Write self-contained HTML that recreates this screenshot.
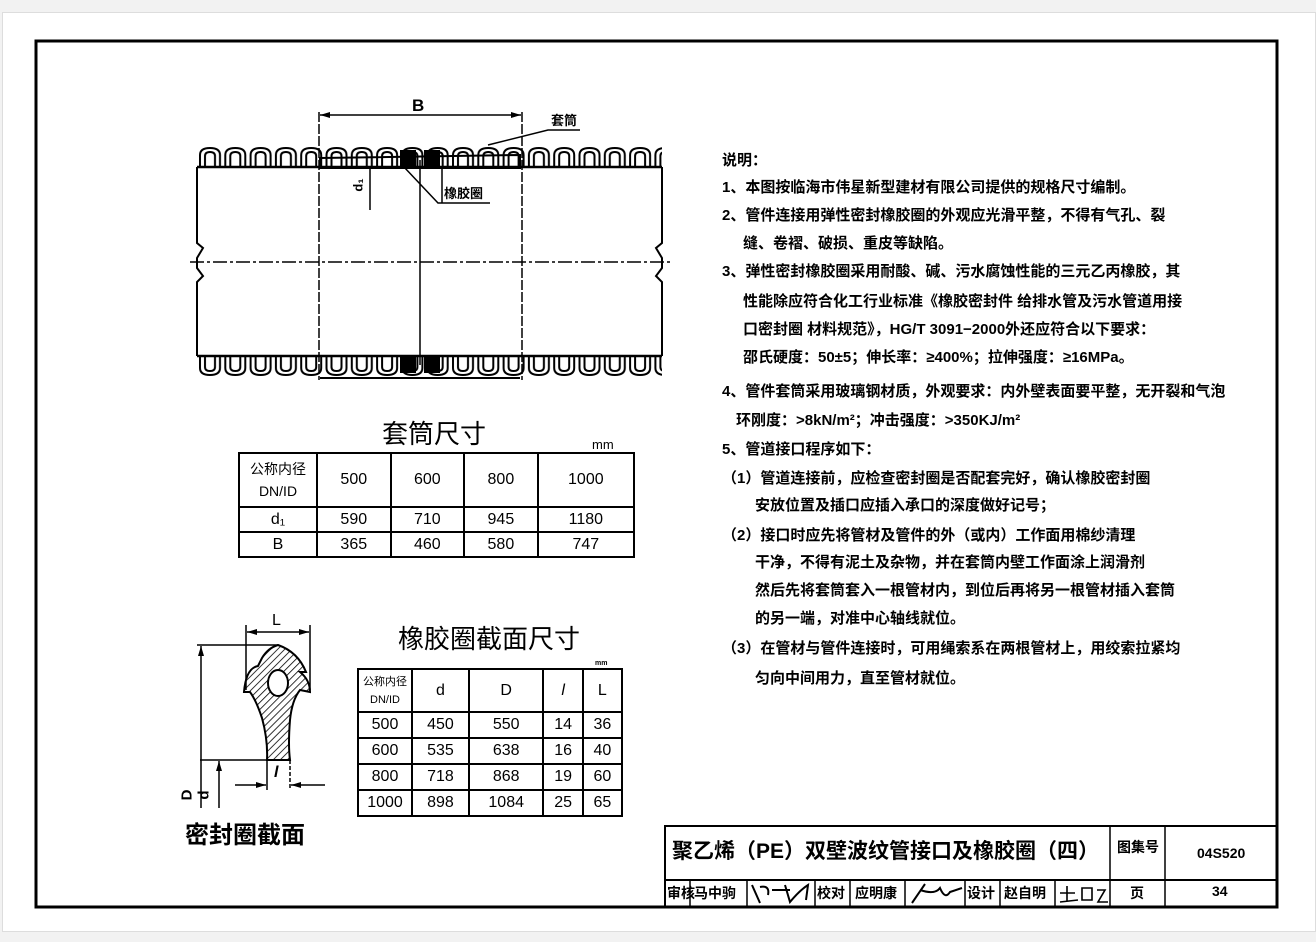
<!DOCTYPE html>
<html><head><meta charset="utf-8"><style>
body{margin:0;width:1316px;height:942px;background:#f2f2f2;position:relative;overflow:hidden;font-family:"Liberation Sans","Noto Sans CJK SC",sans-serif;color:#000}
.pg{position:absolute;left:2px;top:12px;width:1312px;height:918px;background:#fff;border:1px solid #ddd}
.t{position:absolute;white-space:nowrap;font-weight:bold;font-size:15px;line-height:18px;font-family:"Liberation Sans","Noto Sans CJK SC",sans-serif}
table{position:absolute;border-collapse:collapse}
td{border:2px solid #000;text-align:center;padding:0;font-size:16px}
</style></head><body>
<div class="pg"></div>
<svg width="1316" height="942" style="position:absolute;left:0;top:0">
<defs>
<pattern id="hu" x="198" y="146" width="25.3" height="24" patternUnits="userSpaceOnUse">
<path d="M2 22 L2 9 Q2 2 12 2 Q22 2 22 9 L22 22 M7 22 L7 10 Q7 6 12 6 Q17 6 17 10 L17 22" fill="none" stroke="#000" stroke-width="2"/>
</pattern>
<pattern id="hd" x="198" y="355" width="25.3" height="24" patternUnits="userSpaceOnUse">
<path d="M2 0 L2 13 Q2 20 12 20 Q22 20 22 13 L22 0 M7 0 L7 12 Q7 16 12 16 Q17 16 17 12 L17 0" fill="none" stroke="#000" stroke-width="2"/>
</pattern>
<pattern id="hat" width="5" height="5" patternUnits="userSpaceOnUse" patternTransform="rotate(45)">
<line x1="0" y1="0" x2="0" y2="5" stroke="#000" stroke-width="1.6"/>
</pattern>
<marker id="a" markerWidth="10" markerHeight="6" refX="10" refY="3" orient="auto-start-reverse" markerUnits="userSpaceOnUse"><path d="M0 0L10 3L0 6z"/></marker>
</defs>
<rect x="36" y="41" width="1241" height="866" fill="none" stroke="#000" stroke-width="3"/>
<!-- pipe -->
<rect x="198" y="146" width="464" height="22" fill="url(#hu)"/>
<rect x="198" y="355" width="464" height="22" fill="url(#hd)"/>
<line x1="197" y1="167" x2="662" y2="167" stroke="#000" stroke-width="2.5"/>
<line x1="197" y1="356" x2="662" y2="356" stroke="#000" stroke-width="2.5"/>
<path d="M320 158 L520 155 L520 168 L320 168z" fill="none" stroke="#000" stroke-width="2"/>
<rect x="400" y="150" width="16" height="18" fill="#000"/>
<rect x="424" y="150" width="16" height="18" fill="#000"/>
<rect x="400" y="355" width="16" height="18" fill="#000"/>
<rect x="424" y="355" width="16" height="18" fill="#000"/>
<path d="M320 378 L520 378" stroke="#000" stroke-width="2"/>
<path d="M197 167 V243 L203 248 L197 258 V268 L203 276 L197 282 V356" fill="none" stroke="#000" stroke-width="2"/>
<path d="M662 167 V243 L656 248 L662 258 V268 L656 276 L662 282 V356" fill="none" stroke="#000" stroke-width="2"/>
<line x1="190" y1="262" x2="672" y2="262" stroke="#000" stroke-width="1.5" stroke-dasharray="14 3 3 3"/>
<line x1="319" y1="112" x2="319" y2="380" stroke="#000" stroke-width="1.5" stroke-dasharray="10 2"/>
<line x1="522" y1="112" x2="522" y2="380" stroke="#000" stroke-width="1.5" stroke-dasharray="10 2"/>
<line x1="420" y1="160" x2="420" y2="365" stroke="#000" stroke-width="1.5"/>
<line x1="320" y1="115" x2="521" y2="115" stroke="#000" stroke-width="1.5" marker-start="url(#a)" marker-end="url(#a)"/>
<path d="M488 145 L548 130 L580 130" fill="none" stroke="#000" stroke-width="1.5"/>
<path d="M404 167 L438 203 L490 203" fill="none" stroke="#000" stroke-width="1.5"/>
<line x1="442" y1="167" x2="442" y2="203" stroke="#000" stroke-width="1.5"/>
<line x1="370" y1="167" x2="370" y2="210" stroke="#000" stroke-width="1.5"/>
<!-- seal section -->
<line x1="246" y1="625" x2="246" y2="690" stroke="#000" stroke-width="1.5"/>
<line x1="310" y1="625" x2="310" y2="690" stroke="#000" stroke-width="1.5"/>
<line x1="247" y1="632" x2="309" y2="632" stroke="#000" stroke-width="1.5" marker-start="url(#a)" marker-end="url(#a)"/>
<line x1="197" y1="645" x2="278" y2="645" stroke="#000" stroke-width="1.5"/>
<line x1="200" y1="760" x2="268" y2="760" stroke="#000" stroke-width="1.5"/>
<line x1="201" y1="646" x2="201" y2="808" stroke="#000" stroke-width="1.5" marker-start="url(#a)"/>
<line x1="219" y1="761" x2="219" y2="808" stroke="#000" stroke-width="1.5" marker-start="url(#a)"/>
<path d="M278 645 Q298 652 306 672 L300 672 Q310 680 310 692 L300 690 Q292 700 290 720 Q288 745 290 760 L267 760 Q268 740 262 718 Q256 700 250 692 L244 692 Q246 668 258 666 L262 658 Q268 648 278 645z" fill="url(#hat)" stroke="#000" stroke-width="2"/>
<ellipse cx="278" cy="683" rx="10" ry="13" fill="#fff" stroke="#000" stroke-width="2"/>
<line x1="267" y1="760" x2="267" y2="790" stroke="#000" stroke-width="1.5"/>
<line x1="290" y1="760" x2="290" y2="790" stroke="#000" stroke-width="1.5" stroke-dasharray="4 2"/>
<line x1="235" y1="785" x2="266" y2="785" stroke="#000" stroke-width="1.5" marker-end="url(#a)"/>
<line x1="325" y1="785" x2="291" y2="785" stroke="#000" stroke-width="1.5" marker-end="url(#a)"/>
<!-- title block -->
<rect x="665" y="826" width="612" height="81" fill="none" stroke="#000" stroke-width="2"/>
<line x1="665" y1="880" x2="1277" y2="880" stroke="#000" stroke-width="2"/>
<path d="M1110 826V907 M1165 826V907 M690 880V907 M747 880V907 M815 880V907 M850 880V907 M905 880V907 M965 880V907 M1000 880V907 M1055 880V907" stroke="#000" stroke-width="1.5"/>
<path d="M752 885 L760 903 M760 887 Q770 885 768 895 M772 890 L790 890 M785 885 L790 902 Q800 890 808 885 L806 900" fill="none" stroke="#000" stroke-width="2"/>
<path d="M912 903 L925 884 M920 890 Q935 895 940 888 Q945 900 950 892 L962 888" fill="none" stroke="#000" stroke-width="2"/>
<path d="M1060 893 L1075 893 M1067 886 L1067 902 M1060 902 L1078 900 M1082 888 L1092 888 L1092 900 L1082 900z M1097 890 L1105 890 L1098 902 L1108 902" fill="none" stroke="#000" stroke-width="1.6"/>
</svg>
<div class="t" style="left:412px;top:97px;font-size:17px">B</div>
<div class="t" style="left:551px;top:112px;font-size:13px">套筒</div>
<div class="t" style="left:444px;top:185px;font-size:13px">橡胶圈</div>
<div class="t" style="left:352px;top:176px;font-size:13px;transform:rotate(-90deg)">d₁</div>
<div class="t" style="left:382px;top:419px;font-size:26px;line-height:30px;font-weight:normal">套筒尺寸</div>
<div class="t" style="left:592px;top:436px;font-size:13px;font-weight:normal">mm</div>
<table style="left:238px;top:452px;width:397px">
<tr style="height:54px"><td style="width:76px;font-size:14px;line-height:22px">公称内径<br>DN/ID</td><td>500</td><td>600</td><td>800</td><td>1000</td></tr>
<tr style="height:25px"><td>d₁</td><td>590</td><td>710</td><td>945</td><td>1180</td></tr>
<tr style="height:25px"><td>B</td><td>365</td><td>460</td><td>580</td><td>747</td></tr>
</table>
<div class="t" style="left:398px;top:624px;font-size:26px;line-height:30px;font-weight:normal">橡胶圈截面尺寸</div>
<div class="t" style="left:595px;top:655px;font-size:7px">mm</div>
<table style="left:357px;top:668px;width:266px">
<tr style="height:43px"><td style="width:52px;font-size:11px;line-height:18px">公称内径<br>DN/ID</td><td>d</td><td>D</td><td><i>l</i></td><td>L</td></tr>
<tr style="height:26px"><td>500</td><td>450</td><td>550</td><td>14</td><td>36</td></tr>
<tr style="height:26px"><td>600</td><td>535</td><td>638</td><td>16</td><td>40</td></tr>
<tr style="height:26px"><td>800</td><td>718</td><td>868</td><td>19</td><td>60</td></tr>
<tr style="height:26px"><td>1000</td><td>898</td><td>1084</td><td>25</td><td>65</td></tr>
</table>
<div class="t" style="left:272px;top:612px;font-size:16px;font-weight:normal">L</div>
<div class="t" style="left:274px;top:764px;font-size:16px"><i>l</i></div>
<div class="t" style="left:182px;top:786px;font-size:15px;transform:rotate(-90deg)">D</div>
<div class="t" style="left:200px;top:786px;font-size:15px;transform:rotate(-90deg)">d</div>
<div class="t" style="left:185px;top:822px;font-size:24px;line-height:28px">密封圈截面</div>
<div class="t" style="left:722px;top:152px">说明：</div>
<div class="t" style="left:722px;top:179px">1、本图按临海市伟星新型建材有限公司提供的规格尺寸编制。</div>
<div class="t" style="left:722px;top:207px">2、管件连接用弹性密封橡胶圈的外观应光滑平整，不得有气孔、裂</div>
<div class="t" style="left:743px;top:235px">缝、卷褶、破损、重皮等缺陷。</div>
<div class="t" style="left:722px;top:263px">3、弹性密封橡胶圈采用耐酸、碱、污水腐蚀性能的三元乙丙橡胶，其</div>
<div class="t" style="left:743px;top:293px">性能除应符合化工行业标准《橡胶密封件 给排水管及污水管道用接</div>
<div class="t" style="left:743px;top:321px">口密封圈 材料规范》，HG/T 3091−2000外还应符合以下要求：</div>
<div class="t" style="left:743px;top:349px">邵氏硬度：50±5；伸长率：≥400%；拉伸强度：≥16MPa。</div>
<div class="t" style="left:722px;top:383px">4、管件套筒采用玻璃钢材质，外观要求：内外壁表面要平整，无开裂和气泡</div>
<div class="t" style="left:736px;top:412px">环刚度：&gt;8kN/m²；冲击强度：&gt;350KJ/m²</div>
<div class="t" style="left:722px;top:441px">5、管道接口程序如下：</div>
<div class="t" style="left:722px;top:470px">（1）管道连接前，应检查密封圈是否配套完好，确认橡胶密封圈</div>
<div class="t" style="left:755px;top:497px">安放位置及插口应插入承口的深度做好记号；</div>
<div class="t" style="left:722px;top:527px">（2）接口时应先将管材及管件的外（或内）工作面用棉纱清理</div>
<div class="t" style="left:755px;top:554px">干净，不得有泥土及杂物，并在套筒内壁工作面涂上润滑剂</div>
<div class="t" style="left:755px;top:582px">然后先将套筒套入一根管材内，到位后再将另一根管材插入套筒</div>
<div class="t" style="left:755px;top:610px">的另一端，对准中心轴线就位。</div>
<div class="t" style="left:722px;top:640px">（3）在管材与管件连接时，可用绳索系在两根管材上，用绞索拉紧均</div>
<div class="t" style="left:755px;top:670px">匀向中间用力，直至管材就位。</div>
<div class="t" style="left:672px;top:838px;font-size:21px;line-height:28px">聚乙烯（PE）双壁波纹管接口及橡胶圈（四）</div>
<div class="t" style="left:1117px;top:838px;font-size:14px">图集号</div>
<div class="t" style="left:1197px;top:844px;font-size:14px">04S520</div>
<div class="t" style="left:667px;top:884px;font-size:14px">审核</div>
<div class="t" style="left:694px;top:884px;font-size:14px">马中驹</div>
<div class="t" style="left:817px;top:884px;font-size:14px">校对</div>
<div class="t" style="left:855px;top:884px;font-size:14px">应明康</div>
<div class="t" style="left:967px;top:884px;font-size:14px">设计</div>
<div class="t" style="left:1004px;top:884px;font-size:14px">赵自明</div>
<div class="t" style="left:1130px;top:884px;font-size:14px">页</div>
<div class="t" style="left:1212px;top:882px;font-size:14px">34</div>
</body></html>
